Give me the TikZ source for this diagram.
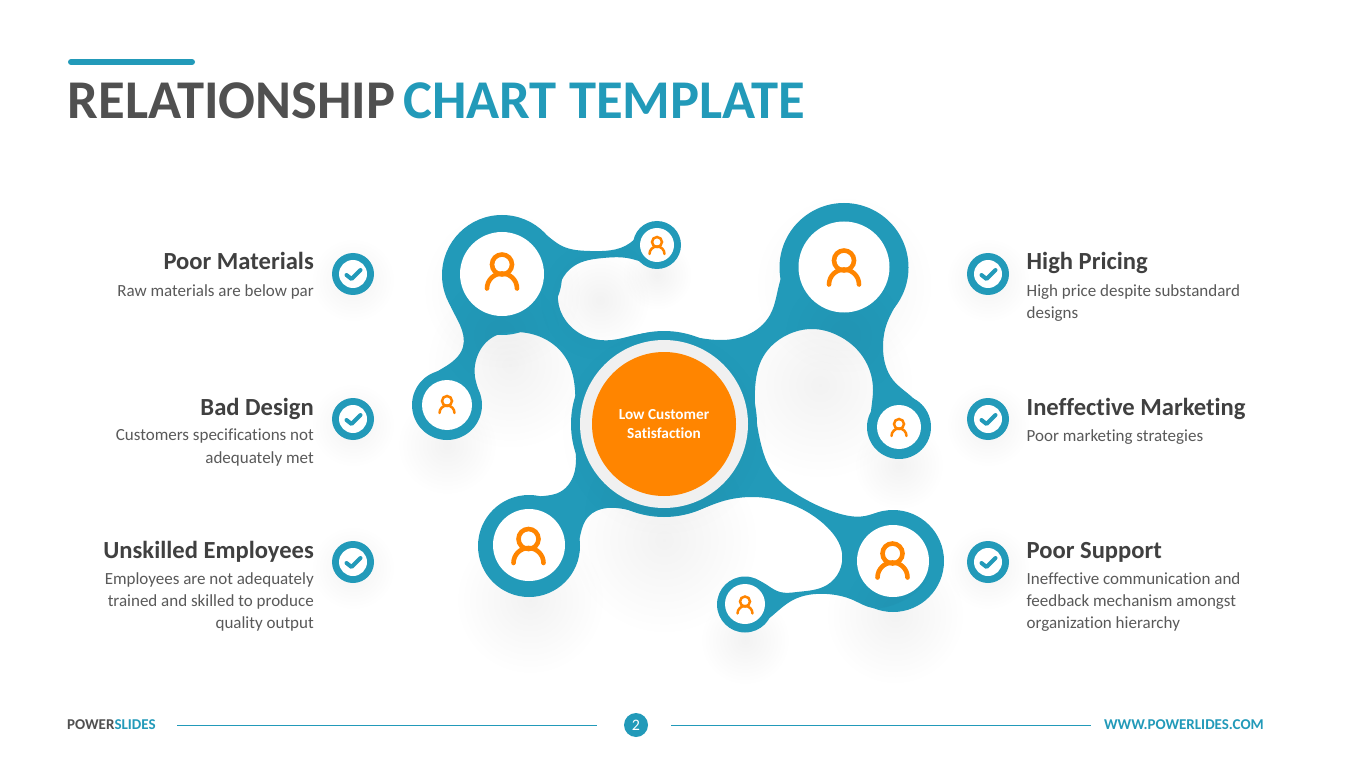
\documentclass[tikz,border=0pt]{standalone}
\usepackage{fontspec}
\setmainfont[Ligatures=NoCommon]{Carlito}
\usetikzlibrary{fadings,hobby}
\definecolor{teal1}{HTML}{229AB9}
\definecolor{tealdk}{HTML}{1F7F9E}
\definecolor{ink}{HTML}{404040}
\definecolor{bodyink}{HTML}{595959}
\definecolor{titleink}{HTML}{505050}
\definecolor{orange1}{HTML}{FF8500}
\tikzfading[name=softspot, inner color=transparent!95, outer color=transparent!100]
\tikzfading[name=darkspot, inner color=transparent!80, outer color=transparent!100]
\tikzset{
  heading/.style={font=\bfseries\fontsize{24.6}{27}\selectfont, text=ink, inner sep=0pt},
  bodyr/.style={font=\fontsize{17}{22.3}\selectfont, text=bodyink, inner sep=0pt, align=right, anchor=north east},
  bodyl/.style={font=\fontsize{17}{22.3}\selectfont, text=bodyink, inner sep=0pt, align=left, anchor=north west},
  usericon/.style={draw=orange1, line cap=round},
  footer/.style={font=\bfseries\fontsize{15}{16}\selectfont, inner sep=0pt},
  footline/.style={draw=teal1, line width=1.4pt},
  ticksign/.style={draw=teal1, line width=4pt, line cap=round, line join=round},
  titletext/.style={font=\bfseries\fontsize{54.6}{56}\selectfont, anchor=base west, inner sep=0pt},
}
\def\blobpath{[use Hobby shortcut,closed=true]
 (502,225)..(542,232)..(562,246)..(590,251)..(630,243)..(642,232)..(657,225)
 ..(677,245)..(657,265)..(642,262)..(627,258)..(603,258)..(574,266)..(558,300)..(566,321)..(590,338)..(612,340)..(635,335)..(663,332)
 ..(700,338)..(723,340)..(747,335)..(770,315)..(781,278)..(844,230)..(906,278)
 ..(897,303)..(887,323)..(883,347)..(893,380)..(913,398)..(927,427)..(899,455)..(871,427)
 ..(873,390)..(863,357)..(837,335)..(813,329)..(787,335)..(763,357)..(755,390)..(760,440)..(773,473)..(803,498)..(837,513)..(865,516)..(880,512)..(935,561)..(893,605)
 ..(873,608)..(853,600)..(827,594)..(793,600)..(767,620)..(750,628)..(722,604)..(745,580)..(757,580)
 ..(780,592)..(797,592)..(827,585)..(842,553)..(827,527)..(793,505)..(753,497)..(720,502)..(693,512)..(663,516)..(633,511)..(607,508)..(588,517)
 ..(578,545)..(529,585)..(490,546)..(535,497)
 ..(560,492)..(575,470)..(575,440)..(575,390)..(567,360)..(543,338)..(518,332)..(493,337)..(477,357)..(475,377)..(481,403)
 ..(447,436)..(416,405)..(422,384)..(443,368)..(463,347)..(460,325)..(447,295)..(450,270)
}
\newcommand{\softat}[3]{\fill[black,path fading=softspot] (#1,#2) circle (#3);}
\newcommand{\personicon}[4]{%
  \draw[usericon, line width=#4pt] (#1,#2-7*#3) circle ({10*#3});
  \draw[usericon, line width=#4pt] (#1-15*#3,#2+17*#3) arc[start angle=180,end angle=0,radius={15*#3},y radius={-15*#3}];
}
\newcommand{\tickbadge}[3]{%
  \softat{#1}{#2+6}{42}
  \node[circle,fill=teal1,minimum size=42pt,inner sep=0pt] (#3) at (#1,#2) {};
  \node[circle,fill=white,minimum size=28pt,inner sep=0pt] (#3w) at (#1,#2) {};
  \draw[ticksign] (#1-6.5,#2+1) -- (#1-1.5,#2+5) -- (#1+7.5,#2-4);
}
\begin{document}
\begin{tikzpicture}[x=1pt,y=-1pt]
\useasboundingbox (0,0) rectangle (1365,767);
\fill[white] (0,0) rectangle (1365,767);
% title
\draw[teal1,line width=6pt,line cap=round] (71,62) -- (192,62);
\node[titletext,text=titleink] (t1) at (67.5,119) {RELATIONSHIP};
\node[titletext,text=teal1] (t2) at (403,119) {CHART TEMPLATE};
% shadows
\softat{510}{365}{85}\softat{820}{385}{95}\softat{664}{540}{95}\softat{530}{600}{75}
\softat{895}{615}{70}\softat{745}{640}{45}\softat{447}{445}{50}\softat{899}{465}{45}
\softat{502}{290}{80}\softat{844}{285}{90}\softat{657}{275}{35}\softat{600}{300}{50}
% blob
\fill[teal1] \blobpath;
\fill[teal1] (664,424) circle (93);
\fill[teal1] (502,275) circle (60);
\fill[teal1] (844,267.5) circle (64.5);
\fill[teal1] (529,546) circle (51);
\fill[teal1] (893,561) circle (51);
\fill[teal1] (745,604.5) circle (28);
\fill[teal1] (899,427) circle (32);
\fill[teal1] (447,405) circle (35);
\fill[teal1] (657,245) circle (24);
\begin{scope}
\clip \blobpath;
\fill[tealdk,path fading=darkspot] (500,335) circle (60);
\fill[tealdk,path fading=darkspot] (845,335) circle (60);
\fill[tealdk,path fading=darkspot] (664,515) circle (80);
\fill[tealdk,path fading=darkspot] (600,300) circle (60);
\fill[tealdk,path fading=darkspot] (895,610) circle (50);
\end{scope}
% centre
\softat{664}{432}{105}
\node[circle,fill=black!6,minimum size=168pt,inner sep=0pt] (ring) at (664,424) {};
\node[circle,fill=orange1,minimum size=144pt,inner sep=0pt,align=center,text=white,font=\bfseries\fontsize{15.3}{19}\selectfont] (core) at (664,424) {Low Customer\\Satisfaction};
% holes
\node[circle,fill=white,minimum size=84pt,inner sep=0pt] (h1) at (502,274) {};
\node[circle,fill=white,minimum size=91pt,inner sep=0pt] (h2) at (844,267) {};
\node[circle,fill=white,minimum size=72pt,inner sep=0pt] (h3) at (529,545) {};
\node[circle,fill=white,minimum size=72pt,inner sep=0pt] (h4) at (893,561) {};
\node[circle,fill=white,minimum size=40pt,inner sep=0pt] (h5) at (745,604) {};
\node[circle,fill=white,minimum size=44pt,inner sep=0pt] (h6) at (899,427) {};
\node[circle,fill=white,minimum size=50pt,inner sep=0pt] (h7) at (447,405) {};
\node[circle,fill=white,minimum size=34pt,inner sep=0pt] (h8) at (657,245) {};
% icons
\personicon{502}{271.5}{1}{4.6}
\personicon{844}{267.5}{1}{4.6}
\personicon{528.5}{546}{1}{4.6}
\personicon{892.5}{560.5}{1}{4.6}
\personicon{745}{605}{.5}{2.5}
\personicon{899}{427.5}{.5}{2.5}
\personicon{447}{404.5}{.5}{2.5}
\personicon{657}{245.5}{.5}{2.5}
% badges
\tickbadge{353}{274}{b1}
\tickbadge{353}{419}{b2}
\tickbadge{353}{562}{b3}
\tickbadge{988}{274}{b4}
\tickbadge{988}{419}{b5}
\tickbadge{988}{562}{b6}
% left text
\node[heading,anchor=base east] (l1h) at (314,270) {Poor Materials};
\node[bodyr] (l1b) at (314,284) {Raw materials are below par};
\node[heading,anchor=base east] (l2h) at (314,415) {Bad Design};
\node[bodyr] (l2b) at (314,429) {Customers specifications not\\adequately met};
\node[heading,anchor=base east] (l3h) at (314,558) {Unskilled Employees};
\node[bodyr] (l3b) at (314,572) {Employees are not adequately\\trained and skilled to produce\\quality output};
% right text
\node[heading,anchor=base west] (r1h) at (1026.5,270) {High Pricing};
\node[bodyl] (r1b) at (1026.5,284) {High price despite substandard\\designs};
\node[heading,anchor=base west] (r2h) at (1026.5,415) {Ineffective Marketing};
\node[bodyl] (r2b) at (1026.5,429) {Poor marketing strategies};
\node[heading,anchor=base west] (r3h) at (1026.5,558) {Poor Support};
\node[bodyl] (r3b) at (1026.5,572) {Ineffective communication and\\feedback mechanism amongst\\organization hierarchy};
% footer
\node[footer,anchor=base west,text=titleink] (f1) at (67,729) {POWER\textcolor{teal1}{SLIDES}};
\draw[footline] (177,725.5) -- (597,725.5);
\draw[footline] (671,725.5) -- (1091,725.5);
\node[circle,fill=teal1,minimum size=24pt,inner sep=0pt,text=white,font=\fontsize{16}{17}\selectfont] (pg) at (636,725) {2};
\node[footer,anchor=base east,text=teal1] (f2) at (1264,729) {WWW.POWERLIDES.COM};
\end{tikzpicture}
\end{document}
